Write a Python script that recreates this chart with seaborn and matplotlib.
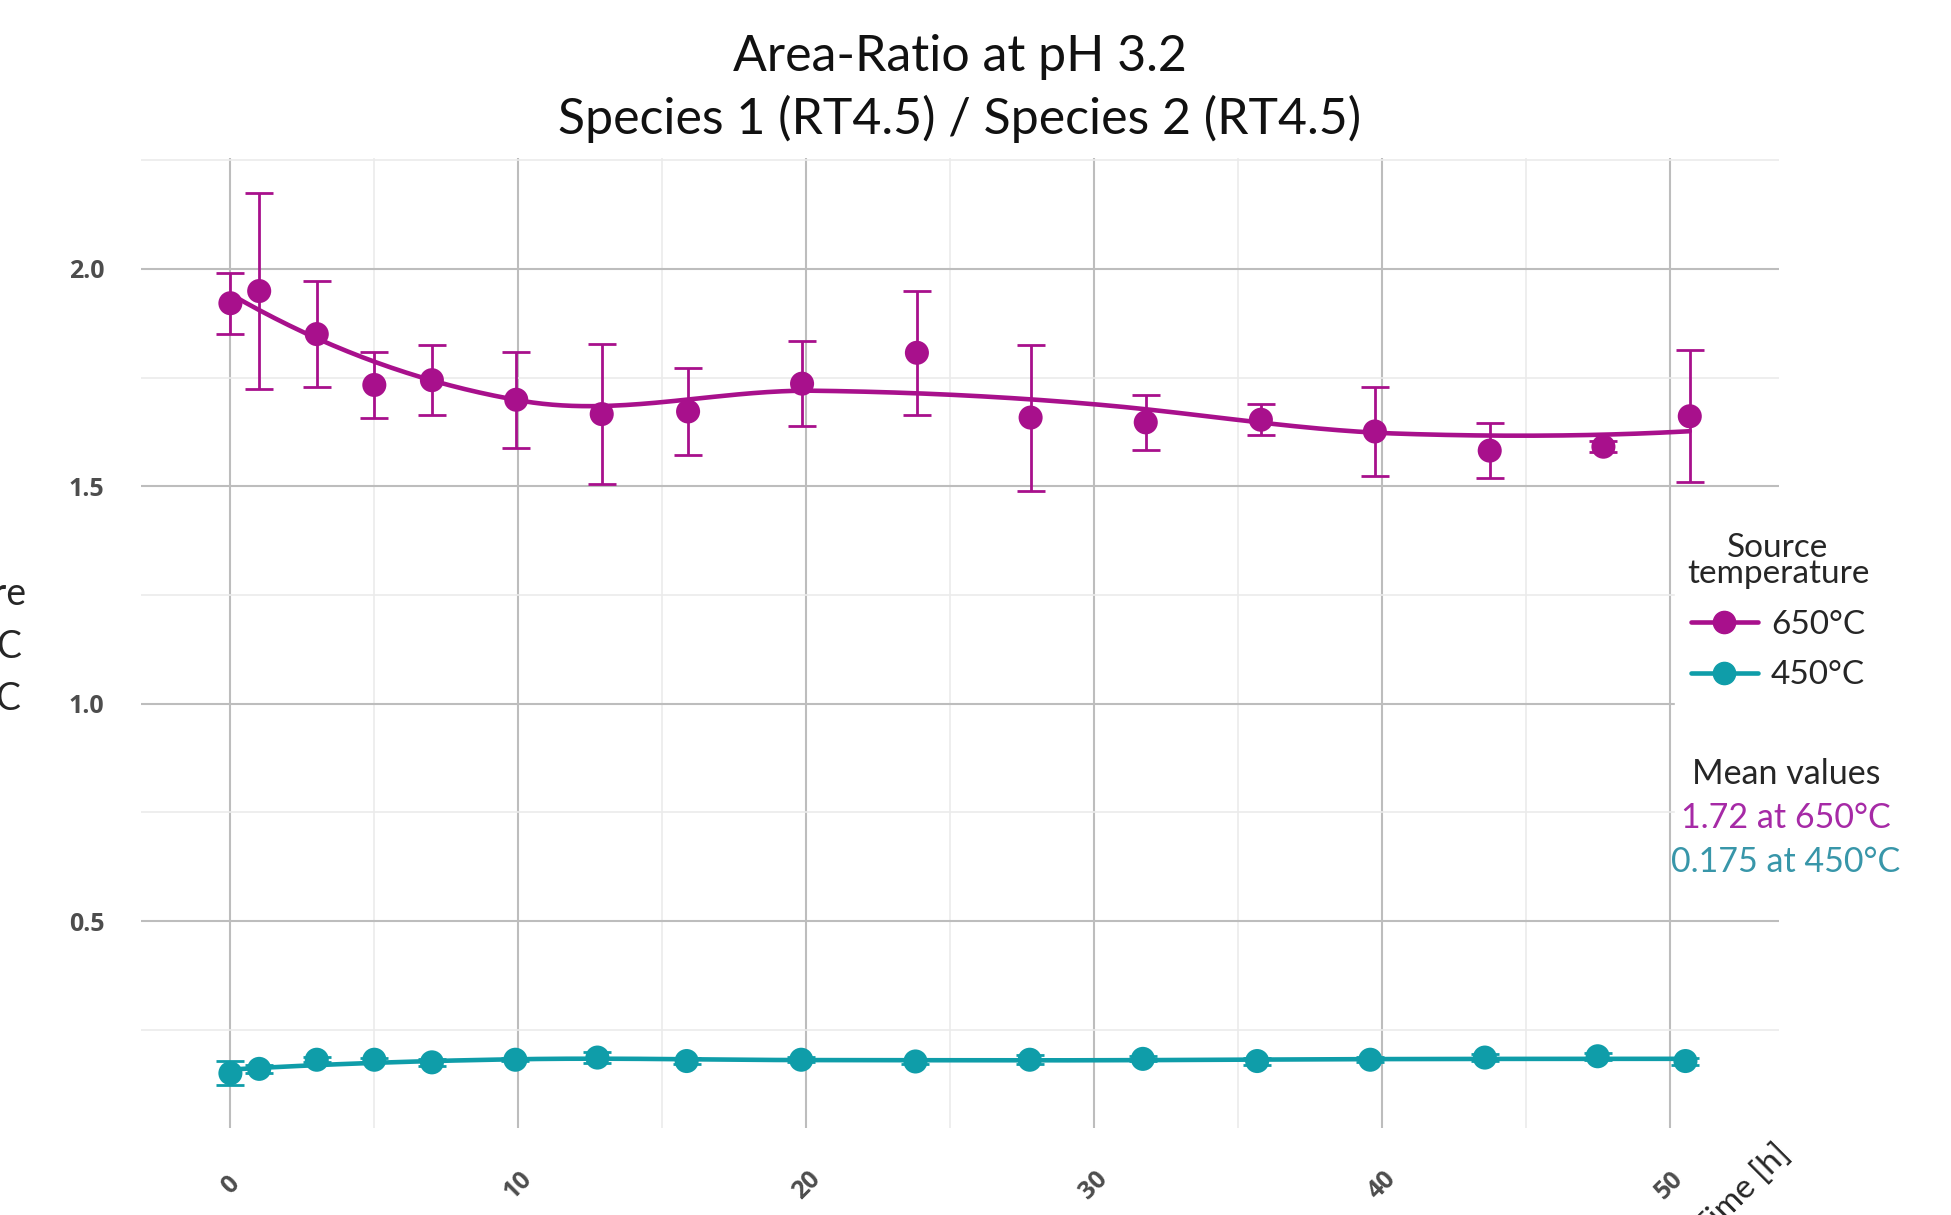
import numpy as np
import pandas as pd
import matplotlib.pyplot as plt
import seaborn as sns
from matplotlib.lines import Line2D
from matplotlib.patches import Rectangle
from matplotlib.ticker import MultipleLocator

# mean area ratio per sampling time, with std dev
time_650 = [0, 1, 3, 5, 7, 9.93, 12.9, 15.9, 19.86, 23.85, 27.8, 31.8, 35.8, 39.76, 43.75, 47.7, 50.7]
ratio_650 = [1.921, 1.949, 1.850, 1.733, 1.744, 1.699, 1.666, 1.672, 1.736, 1.807,
             1.658, 1.647, 1.653, 1.626, 1.582, 1.591, 1.661]
sd_650 = [0.070, 0.225, 0.121, 0.075, 0.080, 0.110, 0.161, 0.099, 0.097, 0.142,
          0.168, 0.064, 0.036, 0.102, 0.064, 0.012, 0.152]

time_450 = [0, 1, 3, 5, 7, 9.9, 12.75, 15.85, 19.83, 23.8, 27.77, 31.7, 35.67, 39.6, 43.58, 47.5, 50.55]
ratio_450 = [0.150, 0.160, 0.181, 0.181, 0.175, 0.181, 0.186, 0.178, 0.181, 0.177,
             0.181, 0.183, 0.178, 0.181, 0.186, 0.189, 0.178]
sd_450 = [0.027, 0.010, 0.006, 0.005, 0.008, 0.004, 0.012, 0.006, 0.006, 0.005,
          0.010, 0.006, 0.008, 0.006, 0.008, 0.008, 0.008]

temps = ['650°C', '450°C']
colors = {'650°C': '#A8108C', '450°C': '#0F9DA9'}
mean_labels = ['1.72 at 650°C', '0.175 at 450°C']
mean_colors = ['#A62AA6', '#3896A9']


def local_fit(x, y, x0, span):
    n = len(x)
    q = int(np.floor(span * n))
    d = np.abs(x - x0)
    h = np.sort(d)[q - 1]
    w = np.clip(1 - (d / h) ** 3, 0, None) ** 3
    A = np.vstack([np.ones(n), x - x0, (x - x0) ** 2]).T
    sw = np.sqrt(w)
    beta = np.linalg.lstsq(A * sw[:, None], y * sw, rcond=None)[0]
    return beta[0], beta[1]


def loess(x, y, xs, span=0.75):
    # local quadratic fits at a few vertices, joined by cubic hermite pieces
    x = np.asarray(x, float)
    y = np.asarray(y, float)
    v = np.linspace(x.min(), x.max(), 6)
    f = np.array([local_fit(x, y, x0, span) for x0 in v])
    out = []
    for t in xs:
        i = min(np.searchsorted(v, t, side='right') - 1, len(v) - 2)
        h = v[i + 1] - v[i]
        s = (t - v[i]) / h
        h00 = 2 * s**3 - 3 * s**2 + 1
        h10 = s**3 - 2 * s**2 + s
        h01 = -2 * s**3 + 3 * s**2
        h11 = s**3 - s**2
        out.append(h00 * f[i, 0] + h10 * h * f[i, 1] + h01 * f[i + 1, 0] + h11 * h * f[i + 1, 1])
    return np.array(out)


df = pd.concat([
    pd.DataFrame({'time': time_650, 'ratio': ratio_650, 'sd': sd_650, 'temp': '650°C'}),
    pd.DataFrame({'time': time_450, 'ratio': ratio_450, 'sd': sd_450, 'temp': '450°C'}),
])

sm = []
for t in temps:
    d = df[df['temp'] == t]
    xs = np.linspace(d['time'].min(), d['time'].max(), 300)
    sm.append(pd.DataFrame({'time': xs, 'ratio': loess(d['time'], d['ratio'], xs), 'temp': t}))
sm = pd.concat(sm)

sns.set_style('white')
plt.rcParams['font.family'] = ['Lato', 'DejaVu Sans']

W, H = 1951, 1215
fig = plt.figure(figsize=(W / 100, H / 100), dpi=100)
ax = fig.add_axes([140.6 / W, 1 - 1128 / H, (1779 - 140.6) / W, (1128 - 158) / H])

sns.lineplot(data=sm, x='time', y='ratio', hue='temp', palette=colors, linewidth=3.3,
             legend=False, ax=ax, zorder=3)
for t in temps:
    d = df[df['temp'] == t]
    ax.errorbar(d['time'], d['ratio'], yerr=d['sd'], fmt='none', ecolor=colors[t],
                elinewidth=2, capsize=10, capthick=2, zorder=4)
sns.scatterplot(data=df, x='time', y='ratio', hue='temp', palette=colors, s=300,
                linewidth=0, legend=False, ax=ax, zorder=5)

ax.set_xlim(-3.12, 53.8)
ax.set_ylim(0.024, 2.255)
ax.xaxis.set_major_locator(MultipleLocator(10))
ax.xaxis.set_minor_locator(MultipleLocator(5))
ax.yaxis.set_major_locator(MultipleLocator(0.5))
ax.yaxis.set_minor_locator(MultipleLocator(0.25))
ax.yaxis.set_major_formatter(lambda v, p: f'{v:.1f}')
ax.grid(which='major', color='#BDBDBD', lw=1.5)
ax.grid(which='minor', color='#EBEBEB', lw=1.2)
ax.set_axisbelow(True)
for s in ax.spines.values():
    s.set_visible(False)
ax.set_xlabel('')
ax.set_ylabel('')
ax.tick_params(which='both', length=0)
ax.tick_params(axis='y', pad=26)
ax.tick_params(axis='x', pad=41)
for lab in ax.get_yticklabels() + ax.get_xticklabels():
    lab.set_fontfamily('Open Sans')
    lab.set_fontweight('bold')
    lab.set_fontsize(18)
    lab.set_color('#4D4D4D')
plt.setp(ax.get_xticklabels(), rotation=45, ha='center', va='center', rotation_mode='anchor')

fig.text(1774 / W, 1 - 1138 / H, 'Time [h]', rotation=45, rotation_mode='anchor',
         ha='right', va='top', fontsize=24)

fig.text(960 / W, 1 - 71 / H, 'Area-Ratio at pH 3.2', ha='center', va='baseline', fontsize=36, color='#111111')
fig.text(960 / W, 1 - 134 / H, 'Species 1 (RT4.5) / Species 2 (RT4.5)', ha='center', va='baseline',
         fontsize=36, color='#111111')

# white block behind legend and mean values
fig.add_artist(Rectangle((1675 / W, 1 - 900 / H), (W - 1675) / W, 400 / H,
                         transform=fig.transFigure, color='white', zorder=1))

handles = [Line2D([], [], color=colors[t], lw=3.3, marker='o', markersize=16) for t in temps]

leg = fig.legend(handles, temps, title='Source\ntemperature', loc='upper center',
                 bbox_to_anchor=(1778 / W, 1 - 516 / H), frameon=False, fontsize=24,
                 title_fontsize=24, handlelength=2.0, handletextpad=0.4, alignment='center',
                 labelspacing=0.62, borderpad=0)
leg.get_title().set_linespacing(0.85)
leg.get_title().set_multialignment('center')

# second copy of the legend, mostly outside the canvas on the left
leg2 = fig.legend(handles, temps, title='Source\ntemperature', loc='upper right',
                  bbox_to_anchor=(26 / W, 1 - 544 / H), frameon=False, fontsize=27,
                  title_fontsize=27, handlelength=2.0, handletextpad=0.4, alignment='center',
                  labelspacing=0.45, borderpad=0, borderaxespad=0)
leg2.get_title().set_linespacing(0.85)
leg2.get_title().set_multialignment('center')

fig.text(1786 / W, 1 - 774 / H, 'Mean values', ha='center', va='center', fontsize=24.5, zorder=3)
for i, (lbl, c) in enumerate(zip(mean_labels, mean_colors)):
    fig.text(1786 / W, 1 - (818 + 44 * i) / H, lbl, ha='center', va='center',
             fontsize=24.5, color=c, zorder=3)

fig.savefig('out.png', dpi=100)
